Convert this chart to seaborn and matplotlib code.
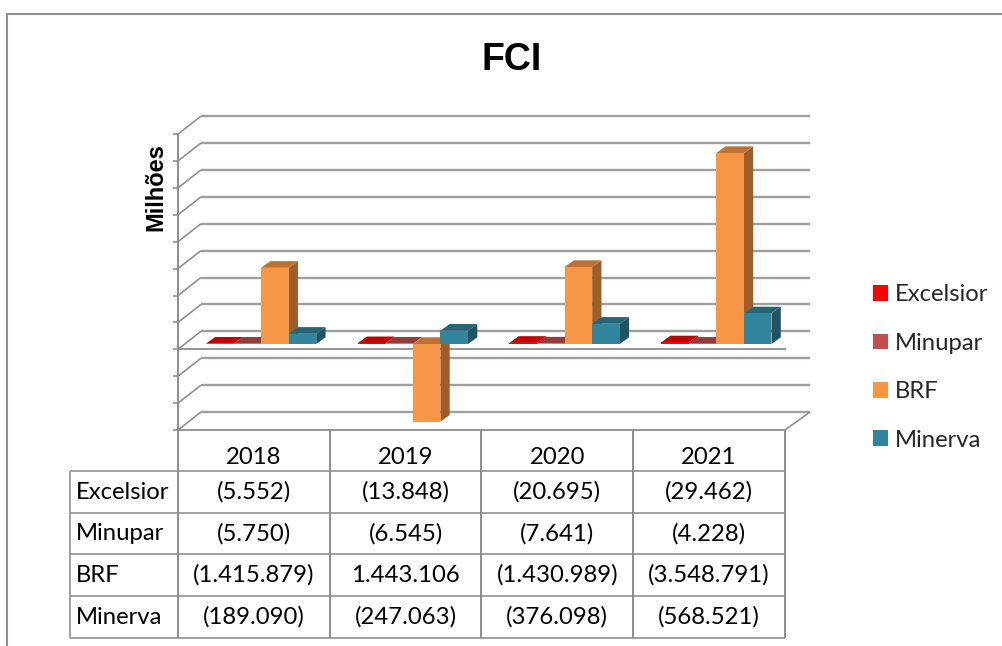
import numpy as np
import pandas as pd
import seaborn as sns
import matplotlib
matplotlib.use("Agg")
import matplotlib.pyplot as plt
from matplotlib.patches import Patch, Polygon
from matplotlib.colors import to_rgb

# ---- data (FCI as printed in the data table; a bar's height is the opposite sign) ----
years = ["2018", "2019", "2020", "2021"]
companies = ["Excelsior", "Minupar", "BRF", "Minerva"]
excelsior = [-5552, -13848, -20695, -29462]
minupar = [-5750, -6545, -7641, -4228]
brf = [-1415879, 1443106, -1430989, -3548791]
minerva = [-189090, -247063, -376098, -568521]
colors = ["#FF0000", "#C0504D", "#F79646", "#31859C"]

series = [excelsior, minupar, brf, minerva]
df = pd.DataFrame(
    [{"Ano": y, "Empresa": c, "Valor": -s[i] / 1e6}
     for c, s in zip(companies, series) for i, y in enumerate(years)]
)

sns.set_theme(style="white")
plt.rcParams["font.family"] = ["Lato", "DejaVu Sans"]

W, H = 1003, 646
fig = plt.figure(figsize=(W / 100, H / 100), dpi=100, facecolor="white")

# layout constants in pixels
LINE = "#8C8C8C"
FRONT_X0, FRONT_X1 = 178, 785
COL_W = (FRONT_X1 - FRONT_X0) / 4
PX_PER_UNIT = 53.8
FRONT_ZERO = 349.3
BACK_DX, BACK_DY = 23, -18
BAR_SHIFT = 7.2
BAR_ZERO = 344
DEPTH_X, DEPTH_Y = 9.3, 6.7
YMIN, YMAX = -1.5, 4.0
FS = 17.2

bg = fig.add_axes([0, 0, 1, 1], zorder=0)
bg.set_xlim(0, W)
bg.set_ylim(H, 0)
bg.axis("off")


def ln(xs, ys, lw=1.15, color=LINE, z=2):
    bg.plot(xs, ys, color=color, lw=lw, solid_capstyle="butt", zorder=z)


# outer chart frame
ln([7, 7], [13, H], lw=1.5, color="#8F8F8F")
ln([6, W], [14, 14], lw=1.5, color="#8F8F8F")

# walls: gridlines, floor diagonals, ticks
for v in np.arange(YMIN, YMAX + 0.01, 0.5):
    fy = FRONT_ZERO - v * PX_PER_UNIT
    by = fy + BACK_DY
    ln([FRONT_X0 + BACK_DX, 810], [by, by], lw=3.0, color="#EDEDED", z=1)
    ln([FRONT_X0 + BACK_DX, 810], [by, by])
    ln([FRONT_X0, FRONT_X0 + BACK_DX], [fy, by])
    ln([FRONT_X0 - 5, FRONT_X0], [fy, fy])
zero_y = FRONT_ZERO
bottom_y = FRONT_ZERO - YMIN * PX_PER_UNIT
axis_top = FRONT_ZERO - YMAX * PX_PER_UNIT
ln([FRONT_X0, FRONT_X0], [axis_top, bottom_y], lw=1.4)
ln([FRONT_X0, FRONT_X1 + 1], [zero_y, zero_y], lw=1.3)
ln([FRONT_X0, FRONT_X1], [bottom_y, bottom_y], lw=1.3)
ln([FRONT_X1, 810], [bottom_y, bottom_y + BACK_DY])

# bars
left = FRONT_X0 + BAR_SHIFT
right = FRONT_X1 + BAR_SHIFT
top_px = BAR_ZERO - YMAX * PX_PER_UNIT
bot_px = BAR_ZERO - YMIN * PX_PER_UNIT
ax = fig.add_axes([left / W, 1 - bot_px / H, (right - left) / W, (bot_px - top_px) / H],
                  zorder=1)
ax.patch.set_alpha(0)
sns.barplot(data=df, x="Ano", y="Valor", hue="Empresa", order=years, hue_order=companies,
            palette=colors, width=0.727, gap=0, errorbar=None, legend=False, ax=ax,
            saturation=1, linewidth=0)
ax.set_xlim(-0.5, 3.5)
ax.set_ylim(YMIN, YMAX)
sns.despine(ax=ax, left=True, bottom=True)
ax.set_xticks([])
ax.set_yticks([])
ax.set_xlabel("")

dx = DEPTH_X / COL_W
dy = DEPTH_Y / PX_PER_UNIT
bars = sorted(ax.patches, key=lambda p: p.get_x())
for i, p in enumerate(bars):
    x0, w = p.get_x(), p.get_width()
    y0, y1 = sorted((p.get_y(), p.get_y() + p.get_height()))
    rgb = np.array(to_rgb(p.get_facecolor()))
    side = tuple(rgb * 0.63)
    top = tuple(rgb * 0.76)
    ax.add_patch(Polygon([(x0 + w, y0), (x0 + w + dx, y0 + dy), (x0 + w + dx, y1 + dy), (x0 + w, y1)],
                         closed=True, fc=side, ec="none", zorder=10 + 3 * i, clip_on=False))
    ax.add_patch(Polygon([(x0, y1), (x0 + dx, y1 + dy), (x0 + w + dx, y1 + dy), (x0 + w, y1)],
                         closed=True, fc=top, ec="none", zorder=11 + 3 * i, clip_on=False))
    p.set_zorder(12 + 3 * i)
    p.set_clip_on(False)

# titles
ax.set_title("FCI", fontsize=27, fontweight="bold", family=["Liberation Sans"], color="black",
             x=(512 - left) / (right - left), y=1 + (top_px - 70.5) / (bot_px - top_px), pad=0,
             va="baseline")
ax.set_ylabel("Milhões", fontsize=17, fontweight="bold", family=["Liberation Sans"], color="black")
ax.yaxis.set_label_coords((167 - left) / (right - left), (bot_px - 187) / (bot_px - top_px))

# data table
row_y = [bottom_y, 471, 512.5, 554, 595.5, 637.5]
tab_left = 70.5
for i in range(5):
    x = FRONT_X0 + i * COL_W
    ln([x, x], [bottom_y, row_y[-1]], lw=1.4)
ln([tab_left, tab_left], [row_y[1], row_y[-1]])
for y in row_y[1:]:
    ln([tab_left, FRONT_X1], [y, y])


def fmt(v):
    s = f"{abs(v):,}".replace(",", ".")
    return f"({s})" if v < 0 else s


BASE = 7
for i, year in enumerate(years):
    cx = FRONT_X0 + (i + 0.5) * COL_W
    bg.text(cx, 457 + BASE, year, ha="center", va="baseline", fontsize=FS, color="black")
    for r, s in enumerate(series):
        bg.text(cx, (row_y[r + 1] + row_y[r + 2]) / 2 + BASE, fmt(s[i]), ha="center",
                va="baseline", fontsize=FS, color="black")
for r, name in enumerate(companies):
    bg.text(76, (row_y[r + 1] + row_y[r + 2]) / 2 + BASE, name, ha="left", va="baseline",
            fontsize=FS, color="black")

# legend
handles = [Patch(facecolor=c, edgecolor="none", label=n) for c, n in zip(colors, companies)]
bg.legend(handles=handles, loc="center left", bbox_to_anchor=(873 / W, 1 - 367.5 / H),
          bbox_transform=fig.transFigure, frameon=False, fontsize=FS,
          handlelength=0.63, handleheight=0.63, handletextpad=0.3,
          labelspacing=1.15, borderpad=0, borderaxespad=0)

fig.savefig("out.png", dpi=100)
